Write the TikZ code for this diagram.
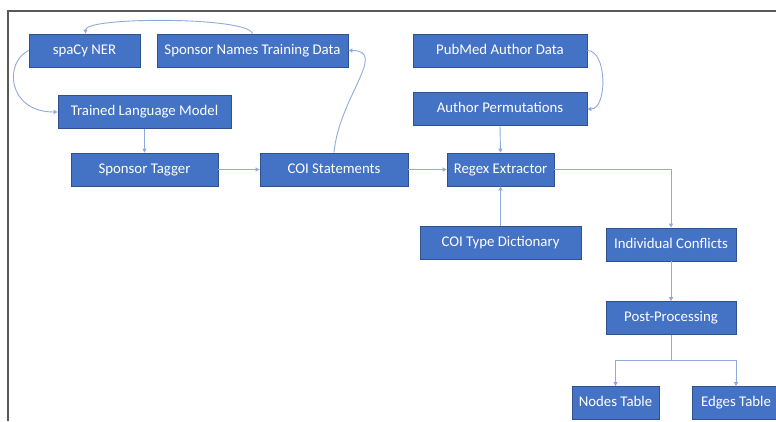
\documentclass[tikz,border=0pt]{standalone}
\usepackage{fontspec}
\setmainfont{Carlito}
\usetikzlibrary{arrows.meta}
\definecolor{boxfill}{RGB}{68,114,196}
\definecolor{boxline}{RGB}{47,82,143}
\definecolor{flow}{RGB}{143,170,220}
\definecolor{frame}{RGB}{89,89,89}
\begin{document}
\begin{tikzpicture}[x=1pt, y=-1pt,
  stage/.style={draw=boxline, fill=boxfill, line width=0.8pt, text=white, inner sep=0pt,
    minimum height=33pt, text height=10.5pt, text depth=3pt, font=\fontsize{14.8}{17}\selectfont},
  flowline/.style={draw=flow, line width=0.9pt},
  >={Triangle[length=4pt,width=4pt]}]
  \useasboundingbox (0,0) rectangle (776,421);
  \draw[frame, line width=2pt] (7.5,421) -- (7.5,11) -- (776,11);

  \node[stage, minimum width=111pt] (ner) at (84.5,50.5) {spaCy NER};
  \node[stage, minimum width=191pt] (names) at (252.5,50.5) {Sponsor Names Training Data};
  \node[stage, minimum width=173pt] (tlm) at (144.5,112) {Trained Language Model};
  \node[stage, minimum width=174pt] (pubmed) at (500,50.5) {PubMed Author Data};
  \node[stage, minimum width=174pt] (perm) at (500,109) {Author Permutations};
  \node[stage, minimum width=147pt] (tagger) at (144.5,169.5) {Sponsor Tagger};
  \node[stage, minimum width=148pt] (coi) at (334,169.5) {COI Statements};
  \node[stage, minimum width=107pt] (regex) at (500.5,169.5) {Regex Extractor};
  \node[stage, minimum width=161pt] (dict) at (500.5,243) {COI Type Dictionary};
  \node[stage, minimum width=130pt] (conf) at (671,244.5) {Individual Conflicts};
  \node[stage, minimum width=130pt] (post) at (671,318) {Post-Processing};
  \node[stage, minimum width=87pt] (nodes) at (615.5,403) {Nodes Table};
  \node[stage, minimum width=88pt] (edges) at (736,403) {Edges Table};
  \coordinate (split) at (671,360);

  \draw[flowline, ->] (names.north) .. controls +(-4,-17) and +(0,-17) .. ([xshift=1pt]ner.north);
  \draw[flowline, ->] (ner.west) .. controls +(-25,12) and +(-50,0) .. (tlm.west);
  \draw[flowline, ->] (tlm.south) -- (tagger.north);
  \draw[flowline, ->] (tagger.east) -- (coi.west);
  \draw[flowline, ->] (coi.north) .. controls +(5,-55) and +(40,0) .. (names.east);
  \draw[flowline, ->] (pubmed.east) .. controls +(20,0) and +(20,0) .. (perm.east);
  \draw[flowline, ->] (perm.south) -- (regex.north);
  \draw[flowline, ->] (coi.east) -- (regex.west);
  \draw[flowline, ->] (dict.north) -- (regex.south);
  \draw[flowline, ->] (regex.east) -| (conf.north);
  \draw[flowline, ->] (conf.south) -- (post.north);
  \draw[flowline] (post.south) -- (split);
  \draw[flowline, ->] (split) -| (nodes.north);
  \draw[flowline, ->] (split) -| (edges.north);
\end{tikzpicture}
\end{document}
